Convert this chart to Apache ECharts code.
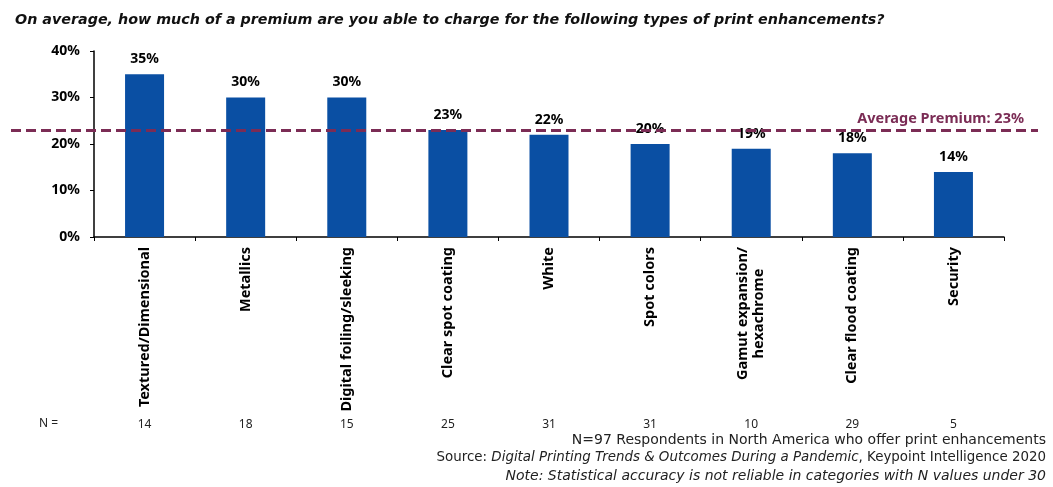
<!DOCTYPE html>
<html>
<head>
<meta charset="utf-8">
<script src="https://cdn.jsdelivr.net/npm/echarts@6/dist/echarts.min.js"></script>
<style>
  html, body { margin: 0; padding: 0; background: #ffffff; }
  #chart { width: 1053px; height: 487px; }
</style>
</head>
<body>
<div id="chart"></div>
<script>
// Print enhancement categories and the average premium charged for each
const categories = [
  'Textured/Dimensional',
  'Metallics',
  'Digital foiling/sleeking',
  'Clear spot coating',
  'White',
  'Spot colors',
  'Gamut expansion/\nhexachrome',
  'Clear flood coating',
  'Security'
];
const premiumPct = [35, 30, 30, 23, 22, 20, 19, 18, 14];
const respondents = [14, 18, 15, 25, 31, 31, 10, 29, 5];
const averagePremium = 23;

// Value axis ticks (percent)
const yMin = 0;
const yMax = 40;
const yStep = 10;

const FONT = '"Noto Sans", sans-serif';
const WIDE_FONT = '"DejaVu Sans", sans-serif';
const BAR_BLUE = '#0A4FA3';
const AVG_COLOR = '#7B2C55';
const CAT_FONT_SIZE = 14.5;

// width of the longest line of a wrapped category label, so its lines can be centred
function measureBold(text, size) {
  const ctx = document.createElement('canvas').getContext('2d');
  ctx.font = 'bold ' + size + 'px "Noto Sans"';
  return Math.ceil(ctx.measureText(text).width);
}
const wrappedWidth = Math.max.apply(null, categories
  .filter(function (c) { return c.indexOf('\n') >= 0; })
  .map(function (c) { return Math.max.apply(null, c.split('\n').map(function (s) { return measureBold(s, CAT_FONT_SIZE); })); })
  .concat([0]));

const chart = echarts.init(document.getElementById('chart'), null, { renderer: 'canvas' });

chart.setOption({
  animation: false,
  backgroundColor: '#ffffff',
  textStyle: { fontFamily: FONT },
  title: {
    text: 'On average, how much of a premium are you able to charge for the following types of print enhancements?',
    left: 10,
    top: 8,
    textStyle: { fontFamily: WIDE_FONT, fontSize: 14.3, fontWeight: 'bold', fontStyle: 'italic', color: '#111111' }
  },
  grid: { left: 94, right: 49, top: 51, bottom: 250, containLabel: false },
  xAxis: [
    {
      type: 'category',
      data: categories,
      axisLine: { show: true, lineStyle: { color: '#000000', width: 1.5 } },
      axisTick: { show: true, length: 4, lineStyle: { color: '#000000' } },
      axisLabel: {
        rotate: 90,
        margin: 10,
        interval: 0,
        fontFamily: FONT,
        fontSize: CAT_FONT_SIZE,
        fontWeight: 'bold',
        color: '#000000',
        formatter: function (v) {
          if (v.indexOf('\n') < 0) return v;
          return v.split('\n').map(function (s) { return '{c|' + s + '}'; }).join('\n');
        },
        rich: {
          c: {
            width: wrappedWidth,
            align: 'center',
            fontFamily: FONT,
            fontSize: CAT_FONT_SIZE,
            fontWeight: 'bold',
            color: '#000000',
            lineHeight: 16
          }
        }
      }
    },
    {
      // sample size per category, shown as a row beneath the chart
      type: 'category',
      position: 'bottom',
      offset: 178,
      data: respondents.map(String),
      axisLine: { show: false },
      axisTick: { show: false },
      axisLabel: { interval: 0, margin: 4, fontFamily: FONT, fontSize: 12, color: '#222222' }
    }
  ],
  yAxis: {
    type: 'value',
    min: yMin,
    max: yMax,
    interval: yStep,
    axisLine: { show: true, lineStyle: { color: '#000000', width: 1.5 } },
    axisTick: { show: true, length: 4, lineStyle: { color: '#000000' } },
    splitLine: { show: false },
    axisLabel: {
      formatter: '{value}%',
      margin: 14,
      fontFamily: FONT,
      fontSize: 14,
      fontWeight: 'bold',
      color: '#000000'
    }
  },
  series: [
    {
      type: 'bar',
      data: premiumPct,
      barWidth: 39,
      itemStyle: { color: BAR_BLUE },
      label: {
        show: true,
        position: 'top',
        distance: 8,
        formatter: '{c}%',
        fontFamily: FONT,
        fontSize: 14,
        fontWeight: 'bold',
        color: '#000000'
      },
      markLine: {
        silent: true,
        symbol: ['none', 'none'],
        lineStyle: { color: AVG_COLOR, width: 3, type: [10, 5] },
        label: {
          show: true,
          position: 'insideEndTop',
          distance: [14, 4],
          formatter: 'Average Premium: ' + averagePremium + '%',
          fontFamily: FONT,
          fontSize: 14.5,
          fontWeight: 'bold',
          color: AVG_COLOR
        },
        data: [[{ x: 11, yAxis: averagePremium }, { x: 1038, yAxis: averagePremium }]]
      }
    },
    {
      type: 'bar',
      xAxisIndex: 1,
      data: [],
      silent: true
    }
  ],
  graphic: [
    {
      type: 'text',
      left: 39,
      top: 418,
      style: { text: 'N =', fontFamily: FONT, fontSize: 12, fill: '#222222' }
    },
    {
      type: 'text',
      right: 7,
      top: 433,
      style: {
        text: 'N=97 Respondents in North America who offer print enhancements',
        fontFamily: WIDE_FONT, fontSize: 14, fill: '#222222', align: 'right'
      }
    },
    {
      type: 'text',
      right: 7,
      top: 451,
      style: {
        text: 'Source: {i|Digital Printing Trends & Outcomes During a Pandemic}, Keypoint Intelligence 2020',
        fontFamily: WIDE_FONT, fontSize: 13.4, fill: '#222222', align: 'right',
        rich: { i: { fontFamily: WIDE_FONT, fontSize: 13.4, fontStyle: 'italic', fill: '#222222' } }
      }
    },
    {
      type: 'text',
      right: 7,
      top: 469,
      style: {
        text: 'Note: Statistical accuracy is not reliable in categories with N values under 30',
        fontFamily: WIDE_FONT, fontSize: 14, fontStyle: 'italic', fill: '#222222', align: 'right'
      }
    }
  ]
});
</script>
</body>
</html>
